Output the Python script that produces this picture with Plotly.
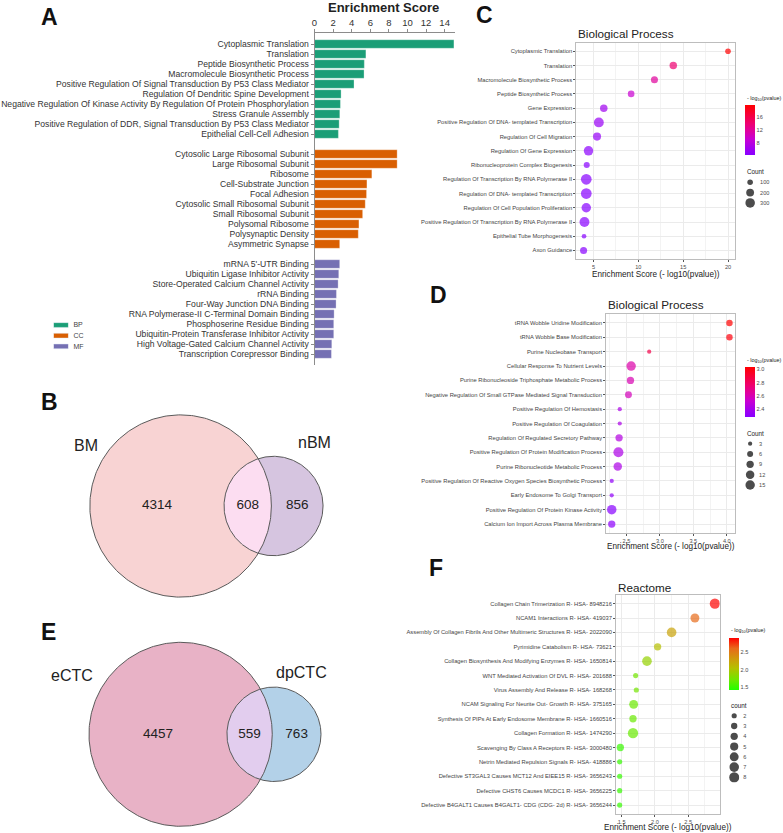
import numpy as np
import plotly.graph_objects as go

W, H = 783, 833
FONT = "Arial, Liberation Sans, sans-serif"

# ---------------- Panel A data ----------------
bp_terms = ["Cytoplasmic Translation", "Translation", "Peptide Biosynthetic Process",
            "Macromolecule Biosynthetic Process",
            "Positive Regulation Of Signal Transduction By P53 Class Mediator",
            "Regulation Of Dendritic Spine Development",
            "Negative Regulation Of Kinase Activity By Regulation Of Protein Phosphorylation",
            "Stress Granule Assembly",
            "Positive Regulation of DDR, Signal Transduction By P53 Class Mediator",
            "Epithelial Cell-Cell Adhesion"]
bp_scores = [15.0, 5.53, 5.36, 5.33, 4.25, 2.86, 2.79, 2.72, 2.65, 2.57]
cc_terms = ["Cytosolic Large Ribosomal Subunit", "Large Ribosomal Subunit", "Ribosome",
            "Cell-Substrate Junction", "Focal Adhesion", "Cytosolic Small Ribosomal Subunit",
            "Small Ribosomal Subunit", "Polysomal Ribosome", "Polysynaptic Density",
            "Asymmetric Synapse"]
cc_scores = [8.89, 8.89, 6.17, 5.64, 5.60, 5.46, 5.18, 4.78, 4.71, 2.71]
mf_terms = ["mRNA 5'-UTR Binding", "Ubiquitin Ligase Inhibitor Activity",
            "Store-Operated Calcium Channel Activity", "rRNA Binding",
            "Four-Way Junction DNA Binding", "RNA Polymerase-II C-Terminal Domain Binding",
            "Phosphoserine Residue Binding", "Ubiquitin-Protein Transferase Inhibitor Activity",
            "High Voltage-Gated Calcium Channel Activity", "Transcription Corepressor Binding"]
mf_scores = [2.71, 2.61, 2.54, 2.36, 2.32, 2.11, 2.07, 2.07, 1.86, 1.82]
group_names = ["BP", "CC", "MF"]
group_colors = ["#1B9E77", "#D95F02", "#7570B3"]

# ---------------- Panel C data ----------------
c_terms = ["Cytoplasmic Translation", "Translation", "Macromolecule Biosynthetic Process",
           "Peptide Biosynthetic Process", "Gene Expression",
           "Positive Regulation Of DNA- templated Transcription",
           "Regulation Of Cell Migration", "Regulation Of Gene Expression",
           "Ribonucleoprotein Complex Biogenesis",
           "Regulation Of Transcription By RNA Polymerase II",
           "Regulation Of DNA- templated Transcription",
           "Regulation Of Cell Population Proliferation",
           "Positive Regulation Of Transcription By RNA Polymerase II",
           "Epithelial Tube Morphogenesis", "Axon Guidance"]
c_score = [20.0, 13.9, 11.8, 9.2, 6.15, 5.6, 5.4, 4.45, 4.25, 4.2, 4.2, 4.2, 4.0, 3.95, 3.9]
c_count = [104, 183, 163, 144, 183, 319, 211, 292, 120, 375, 375, 292, 319, 71, 163]
c_legend_counts = [100, 200, 300]
c_cbar_ticks = [8, 12, 16]

# ---------------- Panel D data ----------------
d_terms = ["tRNA Wobble Uridine Modification", "tRNA Wobble Base Modification",
           "Purine Nucleobase Transport", "Cellular Response To Nutrient Levels",
           "Purine Ribonucleoside Triphosphate Metabolic Process",
           "Negative Regulation Of Small GTPase Mediated Signal Transduction",
           "Positive Regulation Of Hemostasis", "Positive Regulation Of Coagulation",
           "Regulation Of Regulated Secretory Pathway",
           "Positive Regulation Of Protein Modification Process",
           "Purine Ribonucleotide Metabolic Process",
           "Positive Regulation Of Reactive Oxygen Species Biosynthetic Process",
           "Early Endosome To Golgi Transport",
           "Positive Regulation Of Protein Kinase Activity",
           "Calcium Ion Import Across Plasma Membrane"]
d_score = [4.04, 4.04, 2.84, 2.57, 2.56, 2.53, 2.40, 2.40, 2.39, 2.38, 2.37, 2.28, 2.28, 2.28, 2.28]
d_logp = [3.03, 3.0, 2.85, 2.62, 2.6, 2.58, 2.42, 2.42, 2.45, 2.42, 2.42, 2.32, 2.32, 2.28, 2.3]
d_count = [7, 7, 3, 15, 9, 8, 3, 3, 9, 17, 12, 3, 3, 15, 9]
d_legend_counts = [3, 6, 9, 12, 15]
d_cbar_ticks = [2.4, 2.6, 2.8, 3.0]

# ---------------- Panel F data ----------------
f_terms = ["Collagen Chain Trimerization R- HSA- 8948216",
           "NCAM1 Interactions R- HSA- 419037",
           "Assembly Of Collagen Fibrils And Other Multimeric Structures R- HSA- 2022090",
           "Pyrimidine Catabolism R- HSA- 73621",
           "Collagen Biosynthesis And Modifying Enzymes R- HSA- 1650814",
           "WNT Mediated Activation Of DVL R- HSA- 201688",
           "Virus Assembly And Release R- HSA- 168268",
           "NCAM Signaling For Neurite Out- Growth R- HSA- 375165",
           "Synthesis Of PIPs At Early Endosome Membrane R- HSA- 1660516",
           "Collagen Formation R- HSA- 1474290",
           "Scavenging By Class A Receptors R- HSA- 3000480",
           "Netrin Mediated Repulsion Signals R- HSA- 418886",
           "Defective ST3GAL3 Causes MCT12 And EIEE15 R- HSA- 3656243",
           "Defective CHST6 Causes MCDC1 R- HSA- 3656225",
           "Defective B4GALT1 Causes B4GALT1- CDG (CDG- 2d) R- HSA- 3656244"]
f_score = [2.90, 2.60, 2.25, 2.04, 1.88, 1.71, 1.72, 1.68, 1.67, 1.67, 1.48, 1.47, 1.47, 1.47, 1.47]
f_count = [8, 6, 7, 4, 7, 2, 2, 6, 4, 8, 4, 2, 2, 2, 2]
f_legend_counts = [2, 3, 4, 5, 6, 7, 8]
f_cbar_ticks = [1.5, 2.0, 2.5]

# ---------------- Venn data ----------------
venn_b_names = ["BM", "nBM"]
venn_b_counts = [4314, 608, 856]
venn_e_names = ["eCTC", "dpCTC"]
venn_e_counts = [4457, 559, 763]

PURPLE_RED = [[0, "#8800FF"], [0.13, "#A000F0"], [0.32, "#C800D2"], [0.49, "#E0009C"],
              [0.63, "#EE0070"], [1, "#FF0000"]]
GREEN_RED = [[0, "#22FF00"], [0.2, "#70E600"], [0.42, "#B4C000"], [0.58, "#CC9E0A"],
             [0.8, "#E86A1A"], [1, "#FF0000"]]

SMALL = 5.6


def xd(a, b):
    return [a / W, b / W]


def yd(top, bottom):
    return [1 - bottom / H, 1 - top / H]


fig = go.Figure()
layout = {}
annotations = []


def ann(text, x, y, size, xanchor="center", yanchor="middle", bold=False, color="#111"):
    annotations.append(dict(text=("<b>%s</b>" % text) if bold else text, x=x / W, y=1 - y / H,
                            xref="paper", yref="paper", xanchor=xanchor, yanchor=yanchor,
                            showarrow=False, font=dict(size=size, color=color, family=FONT)))


# ---------------- Panel A ----------------
cat_order = bp_terms + [" "] + cc_terms + ["  "] + mf_terms
for terms, scores, gname, col in zip([bp_terms, cc_terms, mf_terms],
                                     [bp_scores, cc_scores, mf_scores], group_names, group_colors):
    fig.add_trace(go.Bar(x=scores, y=terms, orientation="h",
                         marker=dict(color=col, line=dict(width=0.5, color="rgba(255,255,255,0.6)")),
                         width=0.85, name=gname, xaxis="x", yaxis="y", showlegend=False))
n_slots = len(cat_order)
layout["xaxis"] = dict(domain=xd(312.7, 453.6), range=[0, 15.1], side="top", anchor="y",
                       tick0=0, dtick=2, showline=True, linecolor="#8C8C8C", linewidth=1,
                       ticks="outside", ticklen=3, tickcolor="#8C8C8C",
                       tickfont=dict(size=9.5, color="#333", family=FONT),
                       showgrid=False, zeroline=False, fixedrange=True)
layout["yaxis"] = dict(domain=yd(33.3, 365), anchor="x", type="category",
                       categoryorder="array", categoryarray=cat_order,
                       range=[n_slots - 1 + 1.1, -1.07],
                       tickvals=bp_terms + cc_terms + mf_terms,
                       showline=True, linecolor="#8C8C8C", linewidth=1, ticks="outside",
                       ticklen=3, tickcolor="#8C8C8C", tickfont=dict(size=8.6, color="#333", family=FONT),
                       showgrid=False, zeroline=False, fixedrange=True)
ann("Enrichment Score", 382, 7.5, 13, bold=True, color="#222")

# legend for A
fig.add_trace(go.Bar(x=[1, 1, 1], y=group_names, orientation="h", marker=dict(color=group_colors),
                     width=0.45, xaxis="x2", yaxis="y2", showlegend=False))
layout["xaxis2"] = dict(domain=xd(50.7, 65.7), range=[0, 1], anchor="y2", visible=False, fixedrange=True)
layout["yaxis2"] = dict(domain=yd(319.7, 351.7), anchor="x2", type="category",
                        categoryorder="array", categoryarray=group_names, range=[2.5, -0.5],
                        side="right", ticks="", showline=False, showgrid=False, zeroline=False,
                        ticklabelstandoff=4, tickfont=dict(size=7, color="#444", family=FONT),
                        fixedrange=True)


# ---------------- dot plots ----------------
def dot_panel(idx, leg_idx, terms, xs, cvals, counts, sizeref, cscale, cmin, cmax,
              xdom, ydom, xrange, dtick, minor, fmt, cbar_ticks, cbar_x, cbar_top, cbar_len,
              cbar_th, leg_counts, leg_x, leg_top, leg_step, leg_lab_gap):
    xa, ya = "x%d" % idx, "y%d" % idx
    cbar = dict(x=cbar_x / W, xanchor="left", y=1 - cbar_top / H, yanchor="top",
                len=cbar_len, lenmode="pixels", thickness=cbar_th,
                thicknessmode="pixels", xpad=0, ypad=0, outlinewidth=0,
                tickvals=cbar_ticks, ticks="",
                tickfont=dict(size=SMALL, color="#4D4D4D", family=FONT))
    if fmt:
        cbar["tickformat"] = fmt
    fig.add_trace(go.Scatter(
        x=xs, y=terms, mode="markers", xaxis=xa, yaxis=ya, showlegend=False,
        marker=dict(size=counts, sizemode="area", sizeref=sizeref, color=cvals,
                    colorscale=cscale, cmin=cmin, cmax=cmax, line=dict(width=0),
                    showscale=True, colorbar=cbar)))
    grid = "#EBEBEB"
    xax = dict(domain=xd(*xdom), range=xrange, anchor=ya, tick0=0, dtick=dtick,
               showgrid=True, gridcolor=grid, gridwidth=0.8,
               minor=dict(dtick=minor, tick0=0, showgrid=True, gridcolor="#F3F3F3", gridwidth=0.6),
               showline=True, mirror=True, linecolor="#BDBDBD", linewidth=1.3,
               ticks="outside", ticklen=2, tickcolor="#555", tickwidth=0.8,
               tickfont=dict(size=SMALL, color="#4D4D4D", family=FONT),
               zeroline=False, fixedrange=True)
    if fmt:
        xax["tickformat"] = fmt
    layout["xaxis%d" % idx] = xax
    layout["yaxis%d" % idx] = dict(domain=yd(*ydom), anchor=xa, type="category",
                                   categoryorder="array", categoryarray=terms,
                                   range=[len(terms) - 1 + 0.6, -0.6],
                                   showgrid=True, gridcolor=grid, gridwidth=0.8,
                                   showline=True, mirror=True, linecolor="#BDBDBD", linewidth=1.3,
                                   ticks="outside", ticklen=2, tickcolor="#555", tickwidth=0.8,
                                   tickfont=dict(size=5.8, color="#444", family=FONT),
                                   zeroline=False, fixedrange=True)
    # size legend
    lx, ly = "x%d" % leg_idx, "y%d" % leg_idx
    labels = [str(c) for c in leg_counts]
    fig.add_trace(go.Scatter(x=[0] * len(leg_counts), y=labels, mode="markers", xaxis=lx, yaxis=ly,
                             showlegend=False,
                             marker=dict(size=leg_counts, sizemode="area", sizeref=sizeref,
                                         color="black", line=dict(width=0))))
    n = len(leg_counts)
    layout["xaxis%d" % leg_idx] = dict(domain=xd(leg_x - 5, leg_x + 5), range=[-1, 1], anchor=ly,
                                       visible=False, fixedrange=True)
    layout["yaxis%d" % leg_idx] = dict(domain=yd(leg_top, leg_top + n * leg_step), anchor=lx,
                                       type="category", categoryorder="array", categoryarray=labels,
                                       range=[n - 0.5, -0.5], side="right", ticks="",
                                       showline=False, showgrid=False, zeroline=False,
                                       ticklabelstandoff=leg_lab_gap,
                                       tickfont=dict(size=SMALL, color="#4D4D4D", family=FONT),
                                       fixedrange=True)


dot_panel(3, 4, c_terms, c_score, c_score, c_count, 6.5, PURPLE_RED, 4.2, 19.6,
          (575.7, 735.0), (42.7, 259.0), [3.11, 20.8], 5, 2.5, None, c_cbar_ticks,
          745.3, 105.3, 49.7, 10.3, c_legend_counts, 750, 177.1, 10.35, 4)
dot_panel(5, 6, d_terms, d_score, d_logp, d_count, 0.334, PURPLE_RED, 2.28, 3.03,
          (605.7, 735.3), (314.3, 532.7), [2.2, 4.13], 0.5, 0.25, ".1f", d_cbar_ticks,
          745.3, 367.3, 50.0, 10.4, d_legend_counts, 750, 438.5, 10.33, 3)
dot_panel(7, 8, f_terms, f_score, f_score, f_count, 0.15, GREEN_RED, 1.40, 2.91,
          (615.7, 719.3), (595.0, 813.7), [1.42, 2.97], 0.5, 0.25, ".1f", f_cbar_ticks,
          729.0, 638.3, 51.7, 9.7, f_legend_counts, 734, 710.6, 10.27, 3)

# titles / axis titles / legend titles for dot plots
ann("Biological Process", 575.7, 33, 11.7, xanchor="left", color="#222")
ann("Biological Process", 605.7, 305, 11.7, xanchor="left", color="#222")
ann("Reactome", 615.7, 587.3, 11.7, xanchor="left", color="#222")
ann("Enrichment Score (- log10(pvalue))", 655.4, 274, 8.2, color="#222")
ann("Enrichment Score (- log10(pvalue))", 670.5, 546.5, 8.2, color="#222")
ann("Enrichment Score (- log10(pvalue))", 667.5, 827.5, 8.2, color="#222")
ann("- log<sub>10</sub>(pvalue)", 744.5, 98, 5.4, xanchor="left", color="#222")
ann("- log<sub>10</sub>(pvalue)", 744.5, 360, 5.4, xanchor="left", color="#222")
ann("- log<sub>10</sub>(pvalue)", 728.5, 630.7, 5.4, xanchor="left", color="#222")
ann("Count", 745.0, 171.7, 6.3, xanchor="left", color="#222")
ann("Count", 745.0, 433.3, 6.3, xanchor="left", color="#222")
ann("count", 729.0, 705.3, 6.3, xanchor="left", color="#222")

# ---------------- Venn diagrams ----------------
S = 5.3  # px^2 per item


def lens_area(r1, r2, d):
    if d >= r1 + r2:
        return 0.0
    if d <= abs(r1 - r2):
        return np.pi * min(r1, r2) ** 2
    a1 = r1 ** 2 * np.arccos((d * d + r1 * r1 - r2 * r2) / (2 * d * r1))
    a2 = r2 ** 2 * np.arccos((d * d + r2 * r2 - r1 * r1) / (2 * d * r2))
    k = 0.5 * np.sqrt((-d + r1 + r2) * (d + r1 - r2) * (d - r1 + r2) * (d + r1 + r2))
    return a1 + a2 - k


def solve_d(r1, r2, target):
    lo, hi = abs(r1 - r2) + 1e-6, r1 + r2
    for _ in range(100):
        mid = (lo + hi) / 2
        if lens_area(r1, r2, mid) > target:
            lo = mid
        else:
            hi = mid
    return (lo + hi) / 2


def venn(cx, cy, counts, fills, names, name_pos):
    only1, both, only2 = counts
    r1 = np.sqrt((only1 + both) * S / np.pi)
    r2 = np.sqrt((only2 + both) * S / np.pi)
    d = solve_d(r1, r2, both * S)
    c2x = cx + d
    t = np.linspace(0, 2 * np.pi, 300)
    for (ccx, r, fc) in [(cx, r1, fills[0]), (c2x, r2, fills[2])]:
        fig.add_trace(go.Scatter(x=ccx + r * np.cos(t), y=cy + r * np.sin(t), mode="lines",
                                 fill="toself", fillcolor=fc, line=dict(width=0),
                                 xaxis="x9", yaxis="y9", showlegend=False, hoverinfo="skip"))
    a = (d * d + r1 * r1 - r2 * r2) / (2 * d)
    h = np.sqrt(r1 * r1 - a * a)
    th1 = np.arctan2(h, a)
    th2 = np.arctan2(h, a - d)
    t1 = np.linspace(-th1, th1, 150)
    t2 = np.linspace(th2, 2 * np.pi - th2, 150)
    lx = np.concatenate([cx + r1 * np.cos(t1), c2x + r2 * np.cos(t2)])
    ly = np.concatenate([cy + r1 * np.sin(t1), cy + r2 * np.sin(t2)])
    fig.add_trace(go.Scatter(x=lx, y=ly, mode="lines", fill="toself", fillcolor=fills[1],
                             line=dict(width=0), xaxis="x9", yaxis="y9", showlegend=False,
                             hoverinfo="skip"))
    for (ccx, r) in [(cx, r1), (c2x, r2)]:
        fig.add_trace(go.Scatter(x=ccx + r * np.cos(t), y=cy + r * np.sin(t), mode="lines",
                                 line=dict(width=1, color="#5A5A5A"), xaxis="x9", yaxis="y9",
                                 showlegend=False, hoverinfo="skip"))
    xs = [((cx - r1) + (c2x - r2)) / 2, ((c2x - r2) + (cx + r1)) / 2, ((cx + r1) + (c2x + r2)) / 2]
    fig.add_trace(go.Scatter(x=xs, y=[cy] * 3, mode="text", text=[str(c) for c in counts],
                             textfont=dict(size=13.5, color="#222", family=FONT),
                             xaxis="x9", yaxis="y9", showlegend=False, hoverinfo="skip"))
    for nm, (px, py) in zip(names, name_pos):
        ann(nm, px, py, 16, color="#222")


layout["xaxis9"] = dict(domain=[0, 1], range=[0, W], anchor="y9", visible=False, fixedrange=True)
layout["yaxis9"] = dict(domain=[0, 1], range=[H, 0], anchor="x9", visible=False, fixedrange=True)
venn(178.3, 506.0, venn_b_counts, ["#F8D3D3", "#FCDDF1", "#D6C5E0"], venn_b_names,
     [(83, 445.7), (312.7, 442.3)])
venn(178.3, 734.3, venn_e_counts, ["#E8B2C6", "#E2CDEE", "#B3D1E8"], venn_e_names,
     [(69.5, 675.7), (299.2, 672.3)])

# panel letters
for letter, (px, py) in zip("ABCDEF", [(47, 17), (46.7, 402), (483, 15), (437, 295), (46, 632), (435, 568)]):
    ann(letter, px, py, 23, bold=True, color="#111")

fig.update_layout(width=W, height=H, margin=dict(l=0, r=0, t=0, b=0), autosize=False,
                  paper_bgcolor="white", plot_bgcolor="rgba(0,0,0,0)", showlegend=False,
                  font=dict(family=FONT), annotations=annotations, **layout)
fig.write_html("out.html", config={"displayModeBar": False},
               post_script="document.body.style.margin='0';document.body.style.padding='0';")
